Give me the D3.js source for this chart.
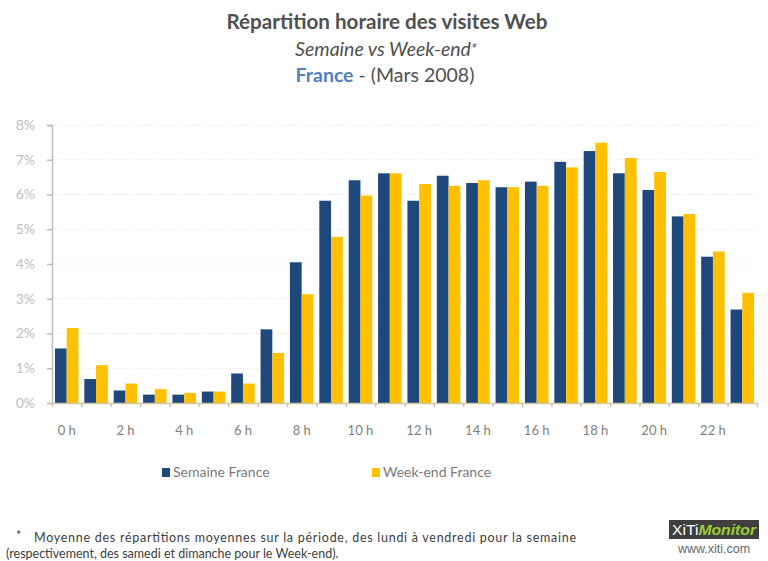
<!DOCTYPE html>
<html>
<head>
<meta charset="utf-8">
<script src="https://cdn.jsdelivr.net/npm/d3@7"></script>
<style>
  body { margin: 0; background: #fff; }
  svg { display: block; }
</style>
</head>
<body>
<script>
// hours 0..23, values (% of visits)
var hours = d3.range(24);
var hourLabels = ["0 h", "2 h", "4 h", "6 h", "8 h", "10 h", "12 h", "14 h", "16 h", "18 h", "20 h", "22 h"];
var semaine = [1.57, 0.69, 0.36, 0.24, 0.24, 0.33, 0.85, 2.12, 4.05, 5.82, 6.41, 6.61,
               5.82, 6.54, 6.33, 6.21, 6.37, 6.94, 7.25, 6.61, 6.13, 5.37, 4.21, 2.69];
var weekend = [2.16, 1.09, 0.56, 0.40, 0.29, 0.33, 0.56, 1.44, 3.13, 4.78, 5.97, 6.61,
               6.30, 6.25, 6.41, 6.21, 6.25, 6.78, 7.49, 7.05, 6.65, 5.44, 4.36, 3.17];
var seriesNames = ["Semaine France", "Week-end France"];
var yTicks = [0, 1, 2, 3, 4, 5, 6, 7, 8];

var W = 768, H = 561;
var margin = {top: 125, left: 52, right: 11, bottom: 158};
var w = W - margin.left - margin.right,
    h = H - margin.top - margin.bottom;

var colors = ["#1f497d", "#ffc000"];
var font = "Lato, 'Open Sans', sans-serif";

var svg = d3.select("body").append("svg")
    .attr("width", W)
    .attr("height", H)
    .style("font-family", font);

// titles
svg.append("text")
    .attr("x", 387).attr("y", 29)
    .attr("text-anchor", "middle")
    .attr("font-size", "20.5px").attr("font-weight", "bold")
    .attr("fill", "#505050")
    .attr("textLength", 321).attr("lengthAdjust", "spacingAndGlyphs")
    .text("Répartition horaire des visites Web");

var t2 = svg.append("text")
    .attr("x", 386).attr("y", 56)
    .attr("text-anchor", "middle")
    .attr("font-size", "19.5px").attr("font-style", "italic")
    .attr("fill", "#505050");
t2.append("tspan").text("Semaine vs Week-end");
t2.append("tspan").attr("font-size", "15px").attr("dy", -2).text("*");

var t3 = svg.append("text")
    .attr("x", 385).attr("y", 82)
    .attr("text-anchor", "middle")
    .attr("font-size", "19.5px")
    .attr("fill", "#505050");
t3.append("tspan").attr("font-weight", "bold").attr("fill", "#4f81bd").text("France");
t3.append("tspan").text(" - (Mars 2008)");

var g = svg.append("g")
    .attr("transform", "translate(" + margin.left + "," + margin.top + ")");

var x0 = d3.scaleBand().domain(hours).range([0, w]).paddingInner(0.2).paddingOuter(0.1);
var x1 = d3.scaleBand().domain([0, 1]).range([0, x0.bandwidth()]);
var xSlot = d3.scaleLinear().domain([0, 24]).range([0, w]);
var y = d3.scaleLinear().domain([0, 8]).range([h, 0]);

// dotted gridlines
g.selectAll(".grid")
    .data(yTicks.slice(1))
    .enter().append("line")
    .attr("x1", 0).attr("x2", w)
    .attr("y1", function(d) { return y(d); })
    .attr("y2", function(d) { return y(d); })
    .attr("stroke", "#e6e2c4")
    .attr("stroke-width", 1)
    .attr("stroke-dasharray", "1,2");

// bars
var groups = g.selectAll(".hour")
    .data(hours)
    .enter().append("g")
    .attr("transform", function(d) { return "translate(" + x0(d) + ",0)"; });

groups.selectAll("rect")
    .data(function(d) { return [semaine[d], weekend[d]]; })
    .enter().append("rect")
    .attr("x", function(d, i) { return x1(i); })
    .attr("width", x1.bandwidth())
    .attr("y", function(d) { return y(d); })
    .attr("height", function(d) { return h - y(d); })
    .attr("fill", function(d, i) { return colors[i]; });

// y axis
var yAxis = g.append("g")
    .call(d3.axisLeft(y).tickValues(yTicks).tickSize(5).tickPadding(12)
        .tickFormat(function(d) { return d + "%"; }));
yAxis.select(".domain").attr("stroke", "#bdbdbd").attr("stroke-width", 1.5);
yAxis.selectAll(".tick line").attr("stroke", "#bdbdbd").attr("stroke-width", 1.5);
yAxis.selectAll(".tick text")
    .attr("fill", "#c0c0c0").attr("font-size", "14px").attr("font-family", font);

// x axis line + ticks at slot borders
var xAxis = g.append("g")
    .attr("transform", "translate(0," + h + ")")
    .call(d3.axisBottom(xSlot).tickValues(d3.range(25)).tickSize(4).tickSizeOuter(0).tickFormat(""));
xAxis.select(".domain").attr("stroke", "#cfc7a4").attr("stroke-width", 1.5);
xAxis.selectAll(".tick line").attr("stroke", "#cfc7a4").attr("stroke-width", 1.5);

// hour labels on even slots
g.selectAll(".hlabel")
    .data(hourLabels)
    .enter().append("text")
    .attr("x", function(d, i) { return xSlot(i * 2 + 0.5); })
    .attr("y", h + 32)
    .attr("text-anchor", "middle")
    .attr("font-size", "13px")
    .attr("fill", "#808080")
    .text(function(d) { return d; });

// legend
var legendX = [162, 372];
var legend = svg.selectAll(".legend")
    .data(seriesNames)
    .enter().append("g")
    .attr("transform", function(d, i) { return "translate(" + legendX[i] + ",468)"; });
legend.append("rect")
    .attr("width", 8).attr("height", 9)
    .attr("fill", function(d, i) { return colors[i]; });
legend.append("text")
    .attr("x", 11).attr("y", 9)
    .attr("font-size", "14px")
    .attr("fill", "#7a7a7a")
    .text(function(d) { return d; });

// footnote
svg.append("text")
    .attr("x", 16).attr("y", 540)
    .attr("font-size", "12.5px").attr("fill", "#404040")
    .text("*");
svg.append("text")
    .attr("x", 34).attr("y", 542)
    .attr("font-size", "12.5px").attr("fill", "#404040")
    .attr("textLength", 542).attr("lengthAdjust", "spacing")
    .text("Moyenne des répartitions moyennes sur la période, des lundi à vendredi pour la semaine");
svg.append("text")
    .attr("x", 6).attr("y", 558)
    .attr("font-size", "12.5px").attr("fill", "#404040")
    .text("(respectivement, des samedi et dimanche pour le Week-end).");

// XiTi logo
svg.append("rect")
    .attr("x", 669).attr("y", 520)
    .attr("width", 90).attr("height", 19)
    .attr("fill", "#3f3f3f");
var logo = svg.append("text")
    .attr("x", 714).attr("y", 535)
    .attr("text-anchor", "middle")
    .attr("font-family", "'Liberation Sans', Arial, sans-serif")
    .attr("font-size", "15px")
    .attr("textLength", 84).attr("lengthAdjust", "spacingAndGlyphs");
logo.append("tspan").attr("fill", "#ffffff").text("XiTi");
logo.append("tspan").attr("fill", "#9acd32").attr("font-style", "italic").attr("font-weight", "bold").text("Monitor");
svg.append("text")
    .attr("x", 714).attr("y", 553)
    .attr("text-anchor", "middle")
    .attr("font-family", "'Liberation Sans', Arial, sans-serif")
    .attr("font-size", "12.5px")
    .attr("fill", "#666")
    .text("www.xiti.com");
</script>
</body>
</html>
